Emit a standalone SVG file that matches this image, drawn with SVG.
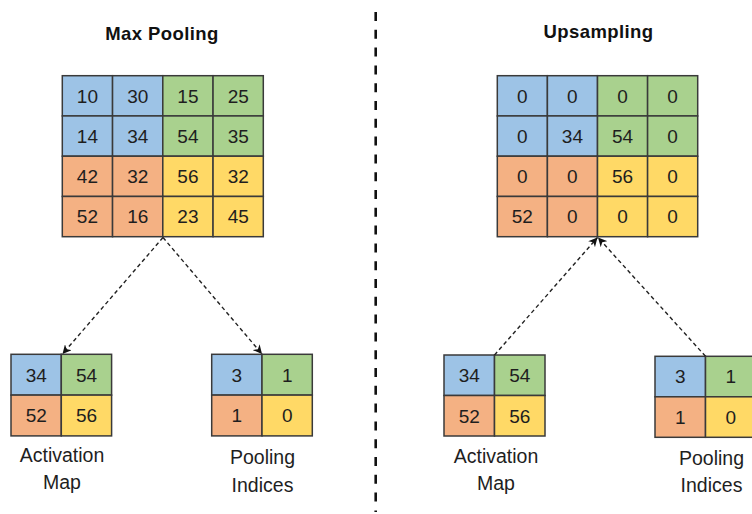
<svg xmlns="http://www.w3.org/2000/svg" width="752" height="514" viewBox="0 0 752 514">
<style>
.b{fill:#9DC3E6}.g{fill:#A9D18E}.o{fill:#F4B183}.y{fill:#FFD966}
.b,.g,.o,.y{stroke:#3a3a3a;stroke-width:1.5}
.n{font-family:"Liberation Sans",Arial,sans-serif;font-size:19px;fill:#1e1e1e;text-anchor:middle}
.lbl{font-family:"Liberation Sans",Arial,sans-serif;font-size:19.5px;fill:#1e1e1e;text-anchor:middle}
.t{font-family:"Liberation Sans",Arial,sans-serif;font-size:18.5px;font-weight:bold;fill:#111;text-anchor:middle;letter-spacing:0.4px}
.c{fill:none;stroke:#222;stroke-width:1.4;stroke-dasharray:4 3;marker-end:url(#ah)}
</style>
<defs>
<marker id="ah" viewBox="0 0 10 10" refX="10" refY="5" markerWidth="9" markerHeight="9" markerUnits="userSpaceOnUse" orient="auto">
<path d="M0,0 L10,5 L0,10 L3,5 z" fill="#111"/>
</marker>
</defs>
<rect width="752" height="514" fill="#fff"/>

<text class="t" x="162" y="40">Max Pooling</text>
<text class="t" x="598.5" y="38">Upsampling</text>

<line x1="375.7" y1="12" x2="375.7" y2="512" stroke="#111" stroke-width="2.6" stroke-dasharray="9 8.8"/>

<g id="maxpool-input">
<rect class="b" x="62.3" y="75.7" width="50.25" height="40.25"/>
<rect class="b" x="112.55" y="75.7" width="50.25" height="40.25"/>
<rect class="g" x="162.8" y="75.7" width="50.25" height="40.25"/>
<rect class="g" x="213.05" y="75.7" width="50.25" height="40.25"/>
<rect class="b" x="62.3" y="115.95" width="50.25" height="40.25"/>
<rect class="b" x="112.55" y="115.95" width="50.25" height="40.25"/>
<rect class="g" x="162.8" y="115.95" width="50.25" height="40.25"/>
<rect class="g" x="213.05" y="115.95" width="50.25" height="40.25"/>
<rect class="o" x="62.3" y="156.2" width="50.25" height="40.25"/>
<rect class="o" x="112.55" y="156.2" width="50.25" height="40.25"/>
<rect class="y" x="162.8" y="156.2" width="50.25" height="40.25"/>
<rect class="y" x="213.05" y="156.2" width="50.25" height="40.25"/>
<rect class="o" x="62.3" y="196.45" width="50.25" height="40.25"/>
<rect class="o" x="112.55" y="196.45" width="50.25" height="40.25"/>
<rect class="y" x="162.8" y="196.45" width="50.25" height="40.25"/>
<rect class="y" x="213.05" y="196.45" width="50.25" height="40.25"/>
<text class="n" x="87.4" y="102.6">10</text><text class="n" x="137.7" y="102.6">30</text><text class="n" x="187.9" y="102.6">15</text><text class="n" x="238.2" y="102.6">25</text>
<text class="n" x="87.4" y="142.9">14</text><text class="n" x="137.7" y="142.9">34</text><text class="n" x="187.9" y="142.9">54</text><text class="n" x="238.2" y="142.9">35</text>
<text class="n" x="87.4" y="183.1">42</text><text class="n" x="137.7" y="183.1">32</text><text class="n" x="187.9" y="183.1">56</text><text class="n" x="238.2" y="183.1">32</text>
<text class="n" x="87.4" y="223.4">52</text><text class="n" x="137.7" y="223.4">16</text><text class="n" x="187.9" y="223.4">23</text><text class="n" x="238.2" y="223.4">45</text>
</g>

<g id="maxpool-activation">
<rect class="b" x="11" y="354.3" width="50.3" height="40.8"/>
<rect class="g" x="61.3" y="354.3" width="50.3" height="40.8"/>
<rect class="o" x="11" y="395.1" width="50.3" height="40.8"/>
<rect class="y" x="61.3" y="395.1" width="50.3" height="40.8"/>
<text class="n" x="36.2" y="381.5">34</text><text class="n" x="86.5" y="381.5">54</text>
<text class="n" x="36.2" y="422.3">52</text><text class="n" x="86.5" y="422.3">56</text>
<text class="lbl" x="62" y="462">Activation</text>
<text class="lbl" x="62" y="488.5">Map</text>
</g>

<g id="maxpool-indices">
<rect class="b" x="211.7" y="354.3" width="50.3" height="40.8"/>
<rect class="g" x="262" y="354.3" width="50.3" height="40.8"/>
<rect class="o" x="211.7" y="395.1" width="50.3" height="40.8"/>
<rect class="y" x="262" y="395.1" width="50.3" height="40.8"/>
<text class="n" x="236.9" y="381.5">3</text><text class="n" x="287.2" y="381.5">1</text>
<text class="n" x="236.9" y="422.3">1</text><text class="n" x="287.2" y="422.3">0</text>
<text class="lbl" x="262.5" y="463.5">Pooling</text>
<text class="lbl" x="262.5" y="491.5">Indices</text>
</g>

<g id="upsample-output">
<rect class="b" x="497.3" y="75.7" width="50.1" height="40.25"/>
<rect class="b" x="547.4" y="75.7" width="50.1" height="40.25"/>
<rect class="g" x="597.5" y="75.7" width="50.1" height="40.25"/>
<rect class="g" x="647.6" y="75.7" width="50.1" height="40.25"/>
<rect class="b" x="497.3" y="115.95" width="50.1" height="40.25"/>
<rect class="b" x="547.4" y="115.95" width="50.1" height="40.25"/>
<rect class="g" x="597.5" y="115.95" width="50.1" height="40.25"/>
<rect class="g" x="647.6" y="115.95" width="50.1" height="40.25"/>
<rect class="o" x="497.3" y="156.2" width="50.1" height="40.25"/>
<rect class="o" x="547.4" y="156.2" width="50.1" height="40.25"/>
<rect class="y" x="597.5" y="156.2" width="50.1" height="40.25"/>
<rect class="y" x="647.6" y="156.2" width="50.1" height="40.25"/>
<rect class="o" x="497.3" y="196.45" width="50.1" height="40.25"/>
<rect class="o" x="547.4" y="196.45" width="50.1" height="40.25"/>
<rect class="y" x="597.5" y="196.45" width="50.1" height="40.25"/>
<rect class="y" x="647.6" y="196.45" width="50.1" height="40.25"/>
<text class="n" x="522.3" y="102.6">0</text><text class="n" x="572.4" y="102.6">0</text><text class="n" x="622.5" y="102.6">0</text><text class="n" x="672.6" y="102.6">0</text>
<text class="n" x="522.3" y="142.9">0</text><text class="n" x="572.4" y="142.9">34</text><text class="n" x="622.5" y="142.9">54</text><text class="n" x="672.6" y="142.9">0</text>
<text class="n" x="522.3" y="183.1">0</text><text class="n" x="572.4" y="183.1">0</text><text class="n" x="622.5" y="183.1">56</text><text class="n" x="672.6" y="183.1">0</text>
<text class="n" x="522.3" y="223.4">52</text><text class="n" x="572.4" y="223.4">0</text><text class="n" x="622.5" y="223.4">0</text><text class="n" x="672.6" y="223.4">0</text>
</g>

<g id="upsample-activation">
<rect class="b" x="444" y="355" width="50.5" height="40.5"/>
<rect class="g" x="494.5" y="355" width="50.5" height="40.5"/>
<rect class="o" x="444" y="395.5" width="50.5" height="40.5"/>
<rect class="y" x="494.5" y="395.5" width="50.5" height="40.5"/>
<text class="n" x="469.2" y="382">34</text><text class="n" x="519.7" y="382">54</text>
<text class="n" x="469.2" y="422.5">52</text><text class="n" x="519.7" y="422.5">56</text>
<text class="lbl" x="496" y="463">Activation</text>
<text class="lbl" x="496" y="490">Map</text>
</g>

<g id="upsample-indices">
<rect class="b" x="655" y="356.3" width="50.5" height="40.5"/>
<rect class="g" x="705.5" y="356.3" width="50.5" height="40.5"/>
<rect class="o" x="655" y="396.8" width="50.5" height="40.5"/>
<rect class="y" x="705.5" y="396.8" width="50.5" height="40.5"/>
<text class="n" x="680.2" y="383.3">3</text><text class="n" x="730.7" y="383.3">1</text>
<text class="n" x="680.2" y="423.8">1</text><text class="n" x="730.7" y="423.8">0</text>
<text class="lbl" x="711.5" y="465">Pooling</text>
<text class="lbl" x="711.5" y="492">Indices</text>
</g>

<g id="connectors">
<line class="c" x1="163" y1="237.5" x2="62.5" y2="354"/>
<line class="c" x1="163" y1="237.5" x2="262" y2="354"/>
<line class="c" x1="494.5" y1="355" x2="597.5" y2="237.5"/>
<line class="c" x1="705.5" y1="356.3" x2="598" y2="237.5"/>
</g>
</svg>
